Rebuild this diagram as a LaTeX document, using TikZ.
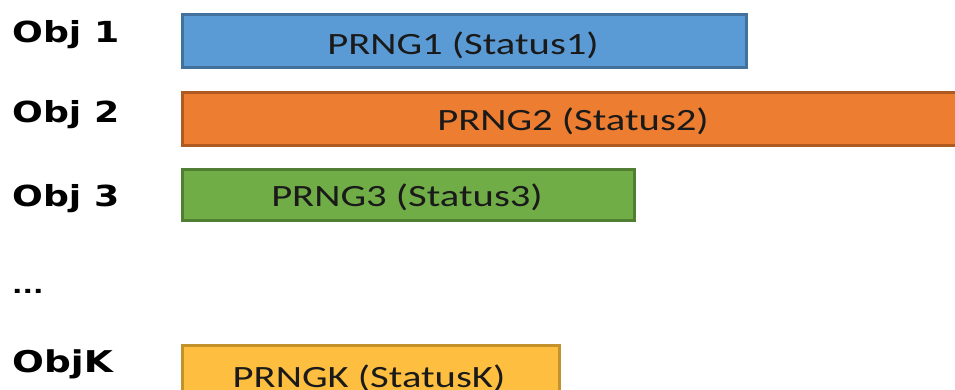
\documentclass[tikz,border=0pt]{standalone}
\usepackage{fontspec}
\newfontfamily\boxfont[FakeStretch=1.31]{Carlito}
\newfontfamily\labfont[FakeStretch=1.25]{DejaVu Sans}
\definecolor{cblue}{HTML}{5B9BD5}
\definecolor{cbluee}{HTML}{41719C}
\definecolor{corange}{HTML}{ED7D31}
\definecolor{corangee}{HTML}{AE5A21}
\definecolor{cgreen}{HTML}{70AD47}
\definecolor{cgreene}{HTML}{507E32}
\definecolor{cgold}{HTML}{FEBF40}
\definecolor{cgolde}{HTML}{C4922A}
\definecolor{txt}{HTML}{1A1A1A}
\tikzset{
  bar/.style={draw, line width=3pt, rectangle, inner sep=0pt, anchor=north west},
  bartext/.style={font=\boxfont\fontsize{31}{31}\selectfont, text=txt, anchor=base, inner sep=0pt},
  objlabel/.style={font=\labfont\bfseries\fontsize{29}{29}\selectfont, text=black, anchor=base west, inner sep=0pt}
}
\begin{document}
\begin{tikzpicture}[x=1pt,y=-1pt]
\useasboundingbox (0,0) rectangle (955,390);
\clip (0,0) rectangle (955,390);
% bars
\node[bar, fill=cblue, draw=cbluee, minimum width=564pt, minimum height=53pt] (b1) at (181,13) {};
\node[bar, fill=corange, draw=corangee, minimum width=790pt, minimum height=53pt] (b2) at (181,91) {};
\node[bar, fill=cgreen, draw=cgreene, minimum width=452pt, minimum height=51pt] (b3) at (181,168) {};
\node[bar, fill=cgold, draw=cgolde, minimum width=377pt, minimum height=60pt] (bk) at (181,344) {};
% bar texts
\node[bartext] (t1) at (463,55) {PRNG1 (Status1)};
\node[bartext] (t2) at (573,131) {PRNG2 (Status2)};
\node[bartext] (t3) at (407,206) {PRNG3 (Status3)};
\node[bartext] (tk) at (369,387) {PRNGK (StatusK)};
% labels
\node[objlabel] (o1) at (12,43) {Obj 1};
\node[objlabel] (o2) at (12,123) {Obj 2};
\node[objlabel] (o3) at (12,206) {Obj 3};
\node[objlabel, font=\labfont\bfseries\fontsize{22}{22}\selectfont] (od) at (12,293) {...};
\node[objlabel, font=\labfont\bfseries\fontsize{30}{30}\selectfont] (ok) at (12,372) {ObjK};
\end{tikzpicture}
\end{document}
